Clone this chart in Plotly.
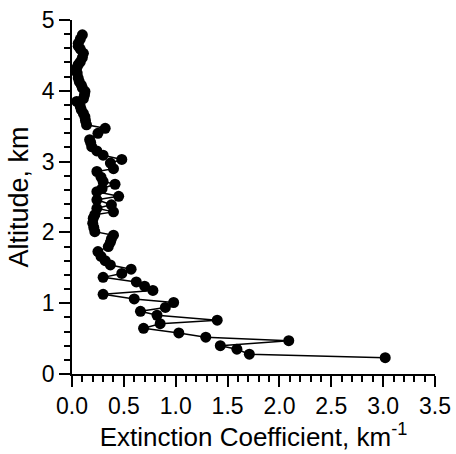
import plotly.graph_objects as go

# Extinction coefficient profile (km^-1) vs altitude (km)
altitude = [0.23, 0.28, 0.35, 0.40, 0.47, 0.52, 0.58, 0.645, 0.71, 0.76,
            0.83, 0.885, 0.94, 1.01, 1.06, 1.125, 1.18, 1.24, 1.30, 1.365,
            1.42, 1.48, 1.54, 1.60, 1.66, 1.73, 1.80, 1.86, 1.91, 1.96,
            2.01, 2.07, 2.13, 2.20, 2.25, 2.29, 2.34, 2.39, 2.46, 2.51,
            2.575, 2.62, 2.68, 2.72, 2.78, 2.86, 2.90, 2.98, 3.03, 3.09,
            3.15, 3.21, 3.27, 3.31, 3.40, 3.47, 3.52, 3.58, 3.63, 3.68,
            3.73, 3.78, 3.85, 3.89, 3.94, 3.99, 4.04, 4.08, 4.13, 4.18,
            4.25, 4.32, 4.37, 4.41, 4.47, 4.53, 4.59, 4.63, 4.67, 4.73, 4.79]
extinction = [3.02, 1.71, 1.59, 1.43, 2.09, 1.29, 1.03, 0.69, 0.85, 1.40,
              0.82, 0.66, 0.90, 0.98, 0.60, 0.30, 0.78, 0.70, 0.62, 0.30,
              0.48, 0.57, 0.37, 0.32, 0.28, 0.25, 0.35, 0.37, 0.38, 0.40,
              0.22, 0.21, 0.20, 0.205, 0.22, 0.40, 0.24, 0.38, 0.24, 0.45,
              0.24, 0.29, 0.415, 0.30, 0.28, 0.24, 0.40, 0.37, 0.48, 0.30,
              0.24, 0.19, 0.18, 0.17, 0.25, 0.32, 0.14, 0.13, 0.125, 0.11,
              0.09, 0.08, 0.045, 0.11, 0.12, 0.125, 0.10, 0.09, 0.07, 0.06,
              0.05, 0.045, 0.06, 0.08, 0.10, 0.11, 0.08, 0.06, 0.06, 0.08, 0.10]

x_ticks = [0.0, 0.5, 1.0, 1.5, 2.0, 2.5, 3.0, 3.5]
x_ticklabels = ["0.0", "0.5", "1.0", "1.5", "2.0", "2.5", "3.0", "3.5"]
y_ticks = [0, 1, 2, 3, 4, 5]
y_ticklabels = ["0", "1", "2", "3", "4", "5"]

font_family = "Liberation Sans, Arial, sans-serif"

fig = go.Figure()
fig.add_trace(go.Scatter(
    x=extinction, y=altitude, mode="lines+markers",
    line=dict(color="black", width=1.5),
    marker=dict(color="black", size=11),
    showlegend=False, cliponaxis=False,
))

axis_common = dict(
    showline=True, linecolor="black", linewidth=1.5,
    ticks="outside", ticklen=11, tickwidth=1.5, tickcolor="black",
    showgrid=False, zeroline=False, mirror=False, automargin=False,
    tickfont=dict(family=font_family, size=23, color="black"),
)

fig.update_xaxes(
    range=[0, 3.5], tickvals=x_ticks, ticktext=x_ticklabels,
    title=dict(text="Extinction Coefficient, km<sup>-1</sup>",
               font=dict(family=font_family, size=26, color="black"), standoff=2),
    minor=dict(dtick=0.1, ticks="outside", ticklen=6, tickwidth=1.5, tickcolor="black"),
    **axis_common,
)
fig.update_yaxes(
    range=[0, 5], tickvals=y_ticks, ticktext=y_ticklabels,
    title=dict(text="Altitude, km",
               font=dict(family=font_family, size=27, color="black"), standoff=5),
    minor=dict(dtick=0.2, ticks="outside", ticklen=6, tickwidth=1.5, tickcolor="black"),
    **axis_common,
)

fig.update_layout(
    width=456, height=454,
    margin=dict(l=72, r=21, t=20, b=80),
    plot_bgcolor="white", paper_bgcolor="white",
)

fig.write_html(
    "out.html",
    config={"displayModeBar": False},
    post_script="document.body.style.margin='0';document.body.style.overflow='hidden';",
)
